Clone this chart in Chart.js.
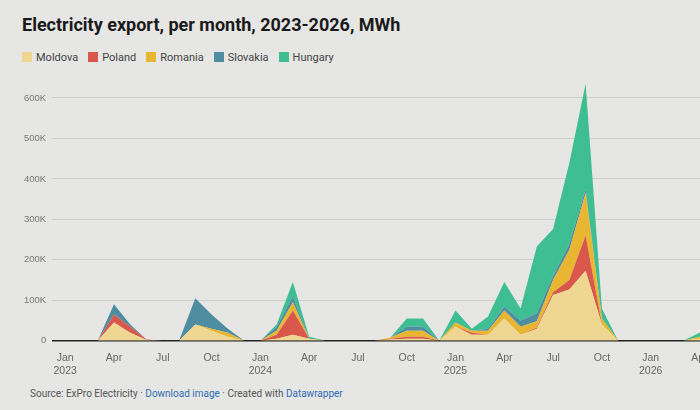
<!DOCTYPE html>
<html><head><meta charset="utf-8">
<script src="https://cdn.jsdelivr.net/npm/chart.js@4"></script>
<style>
body{margin:0;width:700px;height:410px;overflow:hidden;background:#e6e6e4;font-family:Roboto,"Noto Sans",sans-serif;position:relative}
h1{position:absolute;left:22px;top:14px;margin:0;font-size:18px;font-weight:700;color:#1a1a1a}
#legend{position:absolute;left:22px;top:51px;font-size:11px;color:#444;display:flex;gap:10px}
#legend span i{display:inline-block;width:10px;height:10px;margin-right:4px;vertical-align:-1px}
#wrap{position:absolute;left:0;top:68px;width:732px;height:312px}
#foot{position:absolute;left:30px;top:388px;font-size:10px;color:#555}
#foot b{font-weight:400;color:#2f6fb5}
</style></head><body>
<h1>Electricity export, per month, 2023-2026, MWh</h1>
<div id="legend"></div>
<div id="wrap"><canvas id="c"></canvas></div>
<div id="foot">Source: ExPro Electricity · <b>Download image</b> · Created with <b>Datawrapper</b></div>
<script>
const months = ["Jan","Feb","Mar","Apr","May","Jun","Jul","Aug","Sep","Oct","Nov","Dec"];
const seriesNames = ["Moldova","Poland","Romania","Slovakia","Hungary"];
const colors = ["#efd791","#d9574b","#e8b631","#4f8ea1","#3fbd93"];
// monthly values, Jan 2023 .. Jun 2026, in MWh
const moldova  = [0,0,0,45000,20000,2000,0,0,40000,25000,10000,0, 0,5000,15000,5000,0,0,0,0,3000,5000,5000,0, 35000,15000,15000,55000,15000,30000,113000,127000,173000,40000,0,0, 0,0,0,5000,5000,5000];
const poland   = [0,0,0,20000,15000,1000,0,0,0,0,0,0, 0,10000,60000,0,0,0,0,0,2000,5000,5000,0, 0,5000,0,0,0,3000,7000,23000,87000,0,0,0, 0,0,0,0,0,0];
const romania  = [0,0,0,0,0,0,0,0,0,5000,10000,0, 0,10000,20000,0,0,0,0,0,3000,15000,15000,0, 10000,5000,10000,20000,20000,15000,30000,75000,105000,15000,0,0, 0,0,0,5000,5000,5000];
const slovakia = [0,0,0,25000,5000,0,0,0,65000,35000,10000,0, 0,10000,15000,0,0,0,0,0,0,10000,10000,0, 0,0,5000,10000,15000,20000,10000,15000,10000,0,0,0, 0,0,0,0,0,0];
const hungary  = [0,0,0,0,0,0,0,0,0,0,0,0, 0,5000,35000,5000,0,0,0,0,0,20000,20000,0, 30000,5000,30000,60000,30000,165000,116000,200000,260000,25000,0,0, 0,0,0,10000,10000,10000];
const series = [moldova, poland, romania, slovakia, hungary];
const yTicks = [0,100000,200000,300000,400000,500000,600000];

document.getElementById("legend").innerHTML = seriesNames.map((n,i)=>`<span><i style="background:${colors[i]}"></i>${n}</span>`).join("");

new Chart(document.getElementById("c"), {
  type: "line",
  data: {
    datasets: series.map((vals,i)=>({
      label: seriesNames[i],
      data: vals.map((v,k)=>({x:k,y:v})),
      backgroundColor: colors[i],
      borderWidth: 0,
      pointRadius: 0,
      fill: i===0 ? "origin" : "-1",
      tension: 0
    }))
  },
  options: {
    responsive: true, maintainAspectRatio: false, animation: false,
    layout: { padding: { top: 0, left: 18 } },
    plugins: { legend: { display: false }, tooltip: { enabled: false } },
    scales: {
      x: {
        type: "linear", min: -0.8, max: 41,
        grid: { display: false }, border: { display: false },
        afterBuildTicks: (ax) => { ax.ticks = []; for (let k=0;k<=41;k+=3) ax.ticks.push({value:k}); },
        ticks: {
          color: "#666", font: { size: 10.5 }, maxRotation: 0, autoSkip: false,
          callback: (v) => { const m = months[v%12]; return v%12===0 ? [m, String(2023+v/12)] : m; }
        }
      },
      y: {
        stacked: true, min: 0, max: 645000,
        border: { display: false },
        afterBuildTicks: (ax) => { ax.ticks = yTicks.map(v=>({value:v})); },
        grid: { color: (c)=> c.tick && c.tick.value===0 ? "#222" : "#cfcfcd", lineWidth: (c)=> c.tick && c.tick.value===0 ? 1.5 : 1, drawTicks: false },
        ticks: { color: "#777", font: { size: 9.5 }, padding: 6, callback: (v)=> v===0 ? "0" : (v/1000)+"K" }
      }
    }
  }
});
</script>
</body></html>
